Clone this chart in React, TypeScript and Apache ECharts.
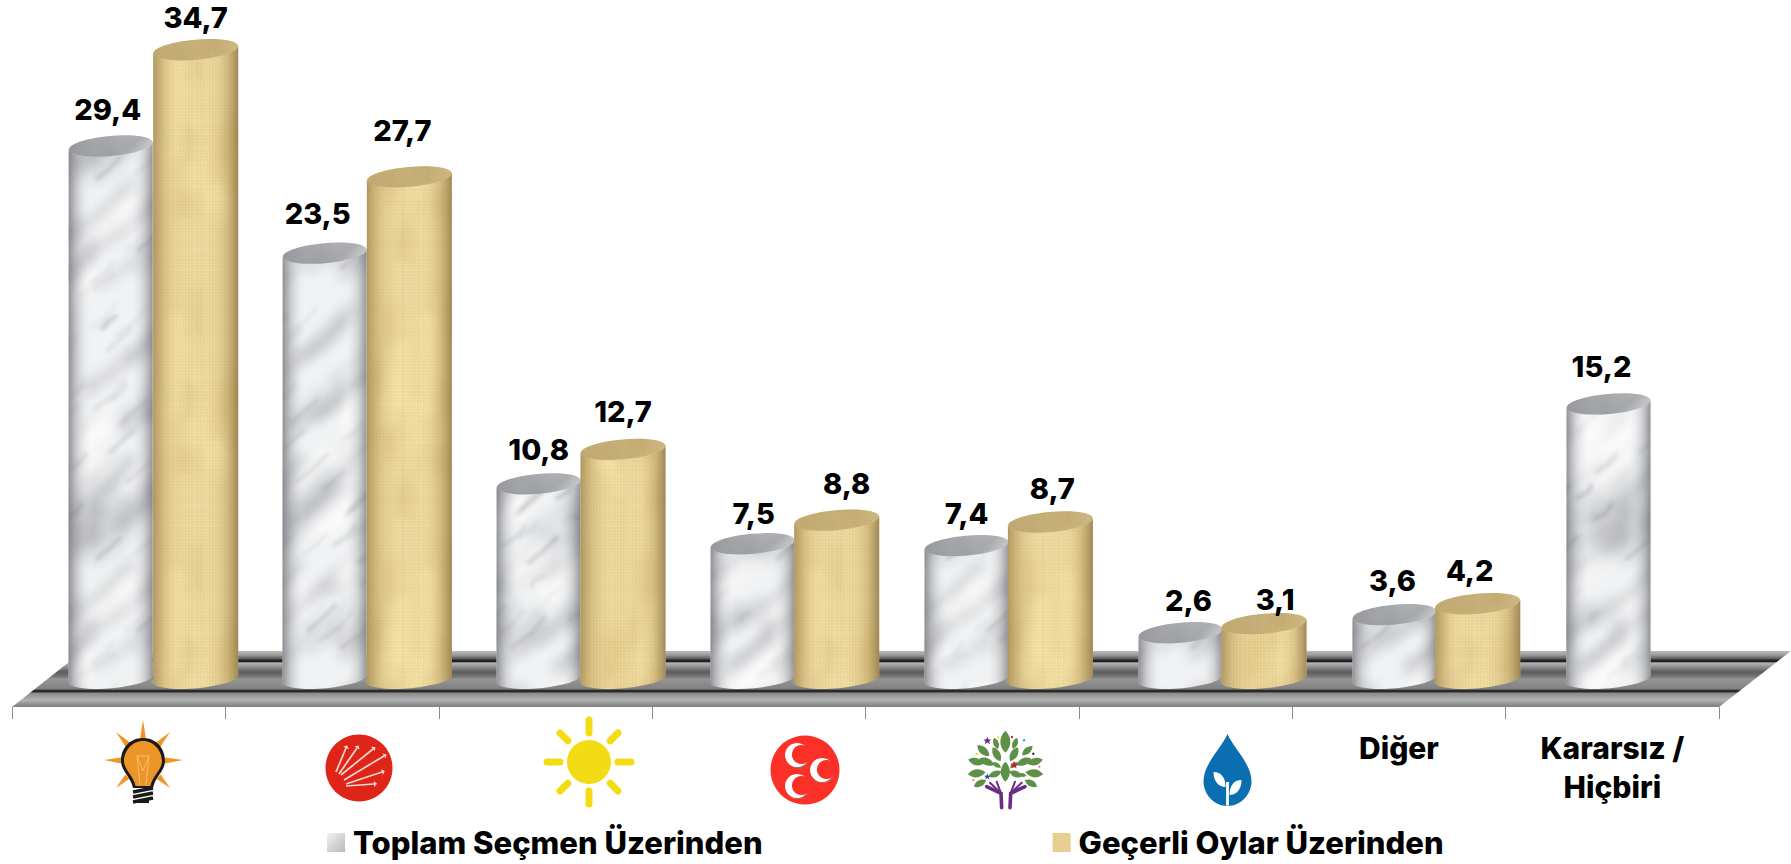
import React, { useEffect, useRef } from "react";
import * as echarts from "echarts";

const categories = ["AK Parti", "CHP", "İYİ Parti", "MHP", "HDP", "Saadet", "Diğer", "Kararsız /\nHiçbiri"];
const textCategories = ["Diğer", "Kararsız /\nHiçbiri"];
const seriesNames = ["Toplam Seçmen Üzerinden", "Geçerli Oylar Üzerinden"];
const toplamSecmen = [29.4, 23.5, 10.8, 7.5, 7.4, 2.6, 3.6, 15.2];
const gecerliOylar = [34.7, 27.7, 12.7, 8.8, 8.7, 3.1, 4.2, null];
const toplamLift = [37, 40, 34, 30, 32, 32, 34, 37];
const gecerliLift = [32, 46, 38, 37, 33, 24, 33, 0];
const toplamNudge = [-3, -7, 0, 1, 0, 8, -2, -7];
const gecerliNudge = [0, -7, 0, 10, 2, 11, -8, 0];

const FONT = "Inter, 'Noto Sans', sans-serif";
const BLACK = "#000000";

const reg = (n: string, d: string) => echarts.graphic.registerShape(n, echarts.graphic.extendPath(d, {}));
reg("bulbBody", "M0,-23 C14,-23 22,-12 22,0 C22,10 12,16 10,27 L-10,27 C-12,16 -22,10 -22,0 C-22,-12 -14,-23 0,-23Z");
reg("bulbInner", "M0,-20 C11,-20 19,-10 19,0 C19,9 9,15 7.5,25 L-7.5,25 C-9,15 -19,9 -19,0 C-19,-10 -11,-20 0,-20Z");
reg("dropBody", "M0,-36 C6,-22 24,-6 24,11 C24,25 13,36 0,36 C-13,36 -24,25 -24,11 C-24,-6 -6,-22 0,-36Z");
reg("sproutL", "M-14,2 C-6,2 -2,8 -2,17 C-9,17 -14,11 -14,2Z");
reg("sproutR", "M14,10 C6,10 2,16 2,25 C9,25 14,19 14,10Z");
reg("treeLeaf", "M0,-1 C.55,-.4 .55,.4 0,1 C-.55,.4 -.55,-.4 0,-1Z");
reg("tinyStar", "M0,-1 L.3,-.3 L1,-.3 L.45,.15 L.65,.9 L0,.45 L-.65,.9 L-.45,.15 L-1,-.3 L-.3,-.3Z");

// Surface textures of the cylinders: only their look, no chart value comes from here.
const grain = (i: number) => {
  const s = Math.sin(i * 12.9898 + 4.1) * 43758.5453;
  return s - Math.floor(s);
};

function marbleTile(): string {
  const W = 170, H = 380;
  const c = document.createElement("canvas");
  c.width = W; c.height = H;
  const g = c.getContext("2d")!;
  g.fillStyle = "#f1f2f3";
  g.fillRect(0, 0, W, H);
  const wrap = (fn: (ox: number, oy: number) => void) => {
    for (const ox of [-W, 0, W]) for (const oy of [-H, 0, H]) fn(ox, oy);
  };
  g.lineCap = "round";
  g.filter = "blur(6px)";
  for (let i = 0; i < 42; i++) {
    const x = grain(i) * W, y = grain(i + 100) * H;
    const len = 25 + grain(i + 200) * 70;
    const a = 0.1 + grain(i + 300) * 0.18;
    const w = 4 + grain(i + 400) * 12;
    wrap((ox, oy) => {
      g.strokeStyle = `rgba(112,115,122,${a})`;
      g.lineWidth = w;
      g.beginPath();
      g.moveTo(x + ox, y + oy);
      g.quadraticCurveTo(x + len * 0.5 + 8 + ox, y - len * 0.35 + oy, x + len + ox, y - len * 0.85 + oy);
      g.stroke();
    });
  }
  g.filter = "blur(7px)";
  for (let i = 0; i < 16; i++) {
    const x = grain(i + 500) * W, y = grain(i + 600) * H;
    wrap((ox, oy) => {
      g.strokeStyle = "rgba(255,255,255,0.75)";
      g.lineWidth = 18;
      g.beginPath();
      g.moveTo(x + ox, y + oy);
      g.lineTo(x + 30 + ox, y - 28 + oy);
      g.stroke();
    });
  }
  g.filter = "blur(2px)";
  for (let i = 0; i < 40; i++) {
    const x = grain(i + 700) * W, y = grain(i + 800) * H;
    const len = 8 + grain(i + 900) * 26;
    const a = 0.1 + grain(i + 1000) * 0.28;
    const w = 1 + grain(i + 1100) * 2.5;
    const j = (grain(i + 1200) - 0.5) * 10;
    wrap((ox, oy) => {
      g.strokeStyle = `rgba(88,91,98,${a})`;
      g.lineWidth = w;
      g.beginPath();
      g.moveTo(x + ox, y + oy);
      g.lineTo(x + len * 0.5 + j + ox, y - len * 0.45 + oy);
      g.lineTo(x + len + ox, y - len * 0.9 + oy);
      g.stroke();
    });
  }
  return c.toDataURL("image/png");
}

function linenTile(): string {
  const W = 128, H = 256;
  const c = document.createElement("canvas");
  c.width = W; c.height = H;
  const g = c.getContext("2d")!;
  g.fillStyle = "#efdba1";
  g.fillRect(0, 0, W, H);
  g.filter = "blur(6px)";
  for (let i = 0; i < 22; i++) {
    const x = grain(i + 1300) * W, y = grain(i + 1400) * H;
    const w = 6 + grain(i + 1500) * 16, h = 20 + grain(i + 1600) * 60;
    for (const ox of [-W, 0, W]) for (const oy of [-H, 0, H]) {
      g.fillStyle = i % 2 ? "rgba(255,238,178,0.45)" : "rgba(196,160,92,0.2)";
      g.fillRect(x + ox, y + oy, w, h);
    }
  }
  g.filter = "blur(0.7px)";
  for (let i = 0; i < W; i += 3) {
    g.fillStyle = `rgba(160,122,58,${0.015 + grain(i + 1700) * 0.07})`;
    g.fillRect(i, 0, 1.6, H);
  }
  for (let i = 0; i < H; i += 3) {
    g.fillStyle = `rgba(160,122,58,${0.012 + grain(i + 2000) * 0.05})`;
    g.fillRect(0, i, W, 1.6);
  }
  return c.toDataURL("image/png");
}

const TILT = 0.09;
const TILT_DEG = (TILT * 180) / Math.PI;

function cylinderItem(kind: "marble" | "linen", tile: string, values: (number | null)[], lifts: number[], nudges: number[]) {
  const isMarble = kind === "marble";
  const rx = isMarble ? 42 : 42.5;
  const ry = 10;
  const tileW = isMarble ? 170 : 128;
  const tileH = isMarble ? 380 : 256;
  return (_params: any, api: any) => {
    const idx = api.value(0);
    const v = api.value(1);
    const top = api.coord([idx, v]);
    const base = api.coord([idx, 0]);
    const shift = isMarble ? -8 + idx * 0.6 : 77 + idx * 0.3;
    const cx = top[0] + shift;
    const dy = rx * Math.sin(TILT);
    const d =
      `M${cx - rx},${top[1] + dy} L${cx + rx},${top[1] - dy} L${cx + rx},${base[1] - dy} ` +
      `A${rx},${ry} ${-TILT_DEG} 0 1 ${cx - rx},${base[1] + dy} Z`;
    const pattern = {
      image: tile, imageWidth: tileW, imageHeight: tileH, repeat: "repeat",
      x: cx - rx + idx * 37, y: top[1] + idx * 61,
    };
    const capPattern = { image: tile, imageWidth: tileW, imageHeight: tileH, repeat: "repeat", x: idx * 41, y: idx * 23 };
    const shade = isMarble
      ? [[0, "rgba(115,116,122,0.8)"], [0.12, "rgba(140,141,147,0.32)"], [0.3, "rgba(255,255,255,0)"], [0.72, "rgba(255,255,255,0)"], [0.9, "rgba(130,131,136,0.3)"], [1, "rgba(105,106,112,0.68)"]]
      : [[0, "rgba(150,125,72,0.72)"], [0.16, "rgba(170,140,80,0.26)"], [0.42, "rgba(255,235,170,0)"], [0.62, "rgba(255,235,170,0)"], [0.86, "rgba(160,130,70,0.3)"], [1, "rgba(130,106,60,0.72)"]];
    const sideShade = {
      type: "linear", x: 0, y: 0, x2: 1, y2: 0,
      colorStops: shade.map(([offset, color]) => ({ offset, color })),
    };
    const capShade = isMarble
      ? { type: "linear", x: 0, y: 0, x2: 1, y2: 0, colorStops: [{ offset: 0, color: "rgba(95,97,104,0.62)" }, { offset: 1, color: "rgba(125,127,133,0.42)" }] }
      : { type: "linear", x: 0, y: 0, x2: 1, y2: 0, colorStops: [{ offset: 0, color: "rgba(135,108,55,0.42)" }, { offset: 1, color: "rgba(125,100,52,0.28)" }] };
    const cap = (fill: any) => ({
      type: "ellipse", x: cx, y: top[1], rotation: TILT,
      shape: { cx: 0, cy: 0, rx, ry }, style: { fill },
    });
    const value = values[idx] as number;
    return {
      type: "group",
      children: [
        { type: "path", shape: { pathData: d }, style: { fill: pattern } },
        { type: "path", shape: { pathData: d }, style: { fill: sideShade } },
        cap(capPattern),
        cap(capShade),
        {
          type: "text", z2: 10,
          style: {
            text: value.toFixed(1).replace(".", ","),
            x: cx + nudges[idx], y: top[1] - lifts[idx],
            align: "center", verticalAlign: "middle",
            font: `800 29px ${FONT}`, fill: BLACK,
          },
        },
      ],
    };
  };
}

function logos(): any[] {
  const out: any[] = [];
  // AK Parti lamp
  const ax = 143, ay = 761;
  [[0, -41], [-27, -29], [27, -29], [-39, -1], [40, -1], [-27, 27], [27, 27]].forEach(([tx, ty]) => {
    const len = Math.hypot(tx, ty);
    const ux = tx / len, uy = ty / len;
    const r0 = 22;
    out.push({
      type: "polygon",
      shape: { points: [[ax + tx, ay + ty], [ax + ux * r0 - uy * 3, ay + uy * r0 + ux * 3], [ax + ux * r0 + uy * 3, ay + uy * r0 - ux * 3]] },
      style: { fill: "#EE9528" },
    });
  });
  out.push({ type: "bulbBody", x: ax, y: ay, style: { fill: "#1a1a1a" } });
  out.push({ type: "bulbInner", x: ax, y: ay, style: { fill: "#EE9528" } });
  const filament = { stroke: "#F3BE72", lineWidth: 1, fill: "none" };
  out.push({ type: "polyline", shape: { points: [[ax - 6, ay - 5], [ax - 3, ay + 24]] }, style: filament });
  out.push({ type: "polyline", shape: { points: [[ax + 6, ay - 5], [ax + 3, ay + 24]] }, style: filament });
  out.push({ type: "polyline", shape: { points: [[ax - 6, ay - 5], [ax + 6, ay - 5], [ax, ay + 10], [ax - 6, ay - 5]] }, style: filament });
  [0, 5, 10].forEach((o) => {
    out.push({ type: "polyline", shape: { points: [[ax - 10, ay + 31 + o], [ax + 10, ay + 27 + o]] }, style: { stroke: "#1a1a1a", lineWidth: 3.4, fill: "none" } });
  });
  out.push({ type: "rect", shape: { x: ax - 6, y: ay + 39, width: 12, height: 3 }, style: { fill: "#1a1a1a" } });

  // CHP arrows
  out.push({ type: "ellipse", shape: { cx: 359, cy: 768, rx: 33.5, ry: 33.5 }, style: { fill: "#DE2518" } });
  [
    [336, 772, 346, 748], [339, 774, 357, 748], [341, 775, 373, 749],
    [344, 780, 384, 756], [346, 784, 382, 772], [346, 786, 374, 784],
  ].forEach(([x1, y1, x2, y2]) => {
    out.push({ type: "line", shape: { x1, y1, x2, y2 }, style: { stroke: "#F6D9D2", lineWidth: 1.7 } });
    const a = Math.atan2(y2 - y1, x2 - x1);
    out.push({
      type: "polygon",
      shape: { points: [[x2 + 3 * Math.cos(a), y2 + 3 * Math.sin(a)], [x2 + 3 * Math.sin(a), y2 - 3 * Math.cos(a)], [x2 - 3 * Math.sin(a), y2 + 3 * Math.cos(a)]] },
      style: { fill: "#F6D9D2" },
    });
  });

  // Sun
  const sx = 589, sy = 762;
  out.push({ type: "circle", shape: { cx: sx, cy: sy, r: 22 }, style: { fill: "#F4DC14" } });
  for (let k = 0; k < 8; k++) {
    const a = (k * Math.PI) / 4;
    const r1 = k % 2 ? 30 : 29, r2 = k % 2 ? 41 : 42;
    out.push({
      type: "line",
      shape: { x1: sx + r1 * Math.cos(a), y1: sy + r1 * Math.sin(a), x2: sx + r2 * Math.cos(a), y2: sy + r2 * Math.sin(a) },
      style: { stroke: "#F4DC14", lineWidth: 7, lineCap: "round" },
    });
  }

  // MHP crescents
  out.push({ type: "circle", shape: { cx: 805, cy: 770, r: 34.5 }, style: { fill: "#FB3026" } });
  [[797, 755], [822, 770], [797, 786]].forEach(([cx, cy]) => {
    out.push({ type: "circle", shape: { cx: cx + 0.8, cy: cy + 0.8, r: 12.4 }, style: { fill: "#B9645E" } });
    out.push({ type: "circle", shape: { cx, cy, r: 12 }, style: { fill: "#FFFFFF" } });
    out.push({ type: "circle", shape: { cx: cx + 4.5, cy: cy - 0.5, r: 9.6 }, style: { fill: "#FB3026" } });
  });

  // HDP tree
  const zx = (v: number) => 700 + v / 3;
  const zy = (v: number) => 620 + v / 3;
  const tc = [916, 450];
  ([
    [916, 365, 11], [888, 370, 6], [945, 370, 6], [850, 392, 8], [890, 403, 8], [942, 403, 8], [982, 392, 7],
    [828, 425, 8], [860, 425, 8], [972, 425, 8], [1005, 425, 8], [916, 455, 10], [885, 462, 7], [947, 462, 7],
    [890, 435, 5], [943, 435, 5], [830, 460, 9], [1003, 460, 9], [968, 465, 4], [840, 490, 7], [993, 490, 7],
  ] as number[][]).forEach(([x, y, s]) => {
    const dx = x - tc[0], dy = y - tc[1];
    out.push({
      type: "treeLeaf", x: zx(x), y: zy(y), scaleX: s * 1.1, scaleY: s,
      rotation: Math.atan2(-dx, -dy),
      style: { fill: "#5F9048" },
    });
  });
  ([[862, 362, "#6B2C86", 4], [942, 435, "#C8203A", 4], [862, 470, "#2A4B9B", 3.2]] as any[]).forEach(([x, y, f, s]) => {
    out.push({ type: "tinyStar", x: zx(x), y: zy(y), scaleX: s, scaleY: s, style: { fill: f } });
  });
  ([[936, 351, "#C8203A"], [972, 361, "#19A7E0"], [830, 402, "#F0D93A"], [1000, 401, "#222244"], [895, 352, "#F0D93A"], [820, 480, "#E58FA6"], [1018, 440, "#E58FA6"]] as any[]).forEach(([x, y, f]) => {
    out.push({ type: "circle", shape: { cx: zx(x), cy: zy(y), r: 1.2 }, style: { fill: f } });
  });
  const purple = "#6B2C86";
  ([
    [[905, 563], [903, 520], [860, 500]], [[930, 563], [932, 520], [975, 500]],
    [[903, 520], [870, 488]], [[932, 520], [965, 488]], [[903, 520], [890, 485]], [[932, 520], [945, 485]],
  ] as number[][][]).forEach((pts, i) => {
    out.push({
      type: "polyline", shape: { points: pts.map(([x, y]) => [zx(x), zy(y)]) },
      style: { stroke: purple, lineWidth: i < 2 ? 3.6 : 2, fill: "none", lineCap: "round" },
    });
  });

  // Saadet drop
  const dx0 = 1227.5, dy0 = 770;
  out.push({ type: "dropBody", x: dx0, y: dy0, style: { fill: "#0A6EB0" } });
  out.push({ type: "sproutL", x: dx0, y: dy0, style: { fill: "#FFFFFF" } });
  out.push({ type: "sproutR", x: dx0, y: dy0, style: { fill: "#FFFFFF" } });
  out.push({ type: "rect", shape: { x: dx0 - 1.4, y: dy0 + 12, width: 2.8, height: 23.5 }, style: { fill: "#FFFFFF" } });
  return out;
}

function buildFloor() {
  const y0 = 651, h = 56;
  const stop = (y: number, color: string) => ({ offset: (y - y0) / h, color });
  return {
    type: "polygon",
    z: 0,
    shape: { points: [[12, 707], [1719, 707], [1791, 651], [83, 651]] },
    style: {
      fill: {
        type: "linear", x: 0, y: 0, x2: 0, y2: 1,
        colorStops: [
          stop(651, "#bcbcbc"), stop(655, "#9c9c9c"), stop(659, "#585858"), stop(660, "#222222"), stop(661.5, "#222222"),
          stop(663, "#b5b5b5"), stop(672, "#5c5c5c"), stop(677, "#7a7a7a"), stop(679, "#959595"), stop(689, "#828282"),
          stop(690.5, "#2a2a2a"), stop(692, "#2a2a2a"), stop(693, "#8a8a8a"), stop(700, "#b2b2b2"), stop(707, "#7d7d7d"),
        ],
      },
    },
  };
}

export default function App() {
  const ref = useRef<HTMLDivElement>(null);
  useEffect(() => {
    document.body.style.margin = "0";
    document.body.style.overflow = "hidden";
    const chart = echarts.init(ref.current!, null, { renderer: "svg" });
    const marble = marbleTile();
    const linen = linenTile();
    chart.setOption({
      animation: false,
      backgroundColor: "#ffffff",
      grid: { left: 12, width: 1707, top: 8, height: 699 },
      legend: {
        left: 327, top: 827, padding: 0,
        itemWidth: 18, itemHeight: 19, itemGap: 290, icon: "rect",
        textStyle: { fontFamily: FONT, fontWeight: 800, fontSize: 31, color: BLACK, padding: [0, 0, 0, 3] },
        data: [
          { name: seriesNames[0], itemStyle: { color: { type: "linear", x: 0, y: 0, x2: 1, y2: 1, colorStops: [{ offset: 0, color: "#F2F2F4" }, { offset: 1, color: "#B8B9BD" }] } } },
          { name: seriesNames[1], itemStyle: { color: "#E8CE8F" } },
        ],
      },
      xAxis: {
        type: "category",
        data: categories,
        boundaryGap: true,
        z: 5,
        axisLine: { show: false, onZero: false },
        axisTick: { show: true, length: 12, lineStyle: { color: "#8a8a8a", width: 1 }, alignWithLabel: false },
        axisLabel: {
          interval: 0, margin: 21, color: BLACK,
          fontFamily: FONT, fontWeight: 800, fontSize: 30, lineHeight: 39,
          formatter: (v: string) => (textCategories.includes(v) ? v : ""),
        },
      },
      yAxis: { type: "value", min: -1.487, max: 37, show: false, splitLine: { show: false } },
      graphic: { elements: [buildFloor(), ...logos()] },
      series: [
        {
          name: seriesNames[0], type: "custom", clip: false, itemStyle: { color: "#D9DADC" },
          renderItem: cylinderItem("marble", marble, toplamSecmen, toplamLift, toplamNudge),
          data: toplamSecmen.map((v, i) => [i, v]),
          encode: { x: 0, y: 1 },
        },
        {
          name: seriesNames[1], type: "custom", clip: false, itemStyle: { color: "#E8CE8F" },
          renderItem: cylinderItem("linen", linen, gecerliOylar, gecerliLift, gecerliNudge),
          data: gecerliOylar.map((v, i) => [i, v]).filter((d) => d[1] !== null),
          encode: { x: 0, y: 1 },
        },
      ],
    });
    return () => chart.dispose();
  }, []);
  return <div ref={ref} style={{ width: 1791, height: 864 }} />;
}
